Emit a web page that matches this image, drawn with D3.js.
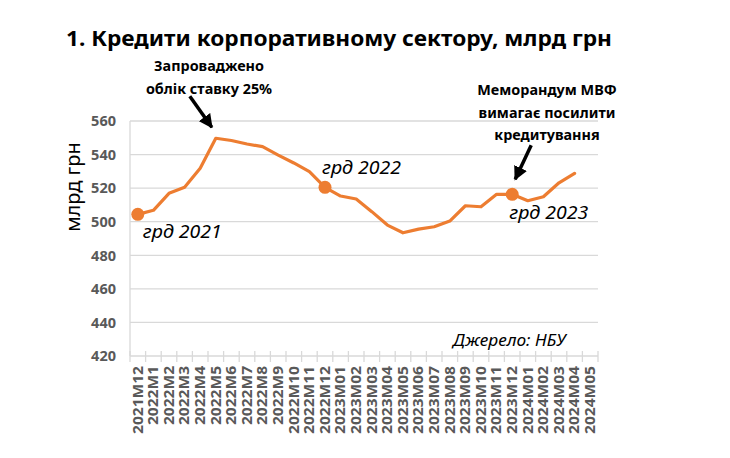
<!DOCTYPE html>
<html><head><meta charset="utf-8">
<script src="https://cdn.jsdelivr.net/npm/d3@7"></script>
<style>body{margin:0;background:#fff;} svg{display:block;}</style>
</head><body>
<svg id="c" width="730" height="458"></svg>
<script>
const categories = ["2021M12","2022M1","2022M2","2022M3","2022M4","2022M5","2022M6","2022M7","2022M8","2022M9","2022M10","2022M11","2022M12","2023M01","2023M02","2023M03","2023M04","2023M05","2023M06","2023M07","2023M08","2023M09","2023M10","2023M11","2023M12","2024M01","2024M02","2024M03","2024M04","2024M05"];
const values = [504.4,506.8,516.9,520.5,531.8,549.7,548.4,546.3,544.7,539.7,535,529.8,520.5,515.3,513.5,506,498,493.4,495.6,497,500.4,509.5,508.9,516.3,516.3,512.5,514.9,523.2,528.8,null];
const yTicks = [420,440,460,480,500,520,540,560];
const markerIdx = [0,12,24];
const markerLabels = ["грд 2021","грд 2022","грд 2023"];

const svg = d3.select("#c");
const F = "'Noto Sans', 'Open Sans', sans-serif";
const x = d3.scaleBand().domain(categories).range([130,598]).padding(0);
const y = d3.scaleLinear().domain([420,560]).range([356,121]);
const cx = c => x(c) + x.bandwidth()/2;
function stretch(sel, k){ sel.each(function(){ const l=this.getComputedTextLength(); d3.select(this).attr("textLength",l*k).attr("lengthAdjust","spacingAndGlyphs"); }); }

// title
svg.append("text").attr("x",66).attr("y",46).attr("font-family",F).attr("font-weight","bold")
  .attr("font-size",21.5).attr("textLength",546).attr("lengthAdjust","spacingAndGlyphs")
  .attr("fill","#000").text("1. Кредити корпоративному сектору, млрд грн");

// gridlines
svg.append("g").selectAll("line").data(yTicks.filter(d=>d>420)).join("line")
  .attr("x1",130).attr("x2",598).attr("y1",d=>y(d)).attr("y2",d=>y(d))
  .attr("stroke","#d9d9d9").attr("stroke-width",1.3);
svg.append("line").attr("x1",130).attr("x2",130).attr("y1",y(560)).attr("y2",y(420))
  .attr("stroke","#d9d9d9").attr("stroke-width",1.3);

// y tick labels
svg.append("g").selectAll("text").data(yTicks).join("text")
  .attr("x",116).attr("y",d=>y(d)).attr("dy","0.36em").attr("text-anchor","end")
  .attr("font-family",F).attr("font-weight","bold").attr("font-size",14.5).attr("fill","#595959")
  .text(d=>d);

// y label
svg.append("text").attr("transform","translate(80,187) rotate(-90)").attr("text-anchor","middle")
  .attr("font-family",F).attr("font-size",20).attr("fill","#000").text("млрд грн");

// x axis
svg.append("line").attr("x1",130).attr("x2",598).attr("y1",356).attr("y2",356)
  .attr("stroke","#d9d9d9").attr("stroke-width",1.3);
const bounds = categories.map(c=>x(c)).concat([598]);
svg.append("g").selectAll("line").data(bounds).join("line")
  .attr("x1",d=>d).attr("x2",d=>d).attr("y1",351).attr("y2",362)
  .attr("stroke","#d9d9d9").attr("stroke-width",1.3);
svg.append("g").selectAll("text").data(categories).join("text")
  .attr("transform",d=>`translate(${cx(d)},366) rotate(-90)`).attr("dy","0.36em")
  .attr("text-anchor","end").attr("font-family",F).attr("font-weight","bold")
  .attr("font-size",13.5).attr("fill","#595959").text(d=>d)
  .call(stretch, 1.15);

// line
const pts = categories.map((c,i)=>({c, v: values[i]})).filter(d=>d.v!=null);
svg.append("path").datum(pts).attr("fill","none").attr("stroke","#ED7D31").attr("stroke-width",3.2)
  .attr("stroke-linejoin","round").attr("stroke-linecap","round")
  .attr("d", d3.line().x(d=>cx(d.c)).y(d=>y(d.v)));

// markers
svg.append("g").selectAll("circle").data(markerIdx).join("circle")
  .attr("cx",i=>cx(categories[i])).attr("cy",i=>y(values[i])).attr("r",6.5).attr("fill","#ED7D31");

// marker labels
const lblOff = [[5,24],[-3,-13],[-3,25]];
svg.append("g").selectAll("text").data(markerIdx).join("text")
  .attr("x",(i,k)=>cx(categories[i])+lblOff[k][0]).attr("y",(i,k)=>y(values[i])+lblOff[k][1])
  .attr("font-family",F).attr("font-style","italic").attr("font-size",18.5).attr("fill","#000")
  .attr("textLength",79).attr("lengthAdjust","spacingAndGlyphs")
  .text((i,k)=>markerLabels[k]);

// source
svg.append("text").attr("x",453).attr("y",346).attr("font-family",F).attr("font-style","italic")
  .attr("font-size",15.5).attr("fill","#000").attr("textLength",113).attr("lengthAdjust","spacingAndGlyphs")
  .text("Джерело: НБУ");

// annotations
function ann(lines, xc, y0, dy){
  svg.append("g").selectAll("text").data(lines).join("text")
    .attr("x",xc).attr("y",(d,i)=>y0+i*dy).attr("text-anchor","middle")
    .attr("font-family",F).attr("font-weight","bold").attr("font-size",15).attr("fill","#000")
    .text(d=>d).call(stretch, 0.96);
}
ann(["Запроваджено","облік ставку 25%"],209,71,23);
ann(["Меморандум МВФ","вимагає посилити","кредитування"],547,95,22.5);

const defs = svg.append("defs");
defs.append("marker").attr("id","ah").attr("viewBox","0 0 10 10").attr("refX",9).attr("refY",5)
  .attr("markerWidth",4).attr("markerHeight",4).attr("orient","auto").attr("markerUnits","strokeWidth")
  .append("path").attr("d","M0,0 L10,5 L0,10 z").attr("fill","#000");
function arrow(x1,y1,x2,y2){
  svg.append("line").attr("x1",x1).attr("y1",y1).attr("x2",x2).attr("y2",y2)
    .attr("stroke","#000").attr("stroke-width",3.5).attr("marker-end","url(#ah)");
}
const p5x = cx(categories[5]), p5y = y(values[5]);
arrow(p5x-26, p5y-42, p5x-4, p5y-11);
const p24x = cx(categories[24]), p24y = y(values[24]);
arrow(p24x+19, p24y-49, p24x+3, p24y-15);
</script>
</body></html>
